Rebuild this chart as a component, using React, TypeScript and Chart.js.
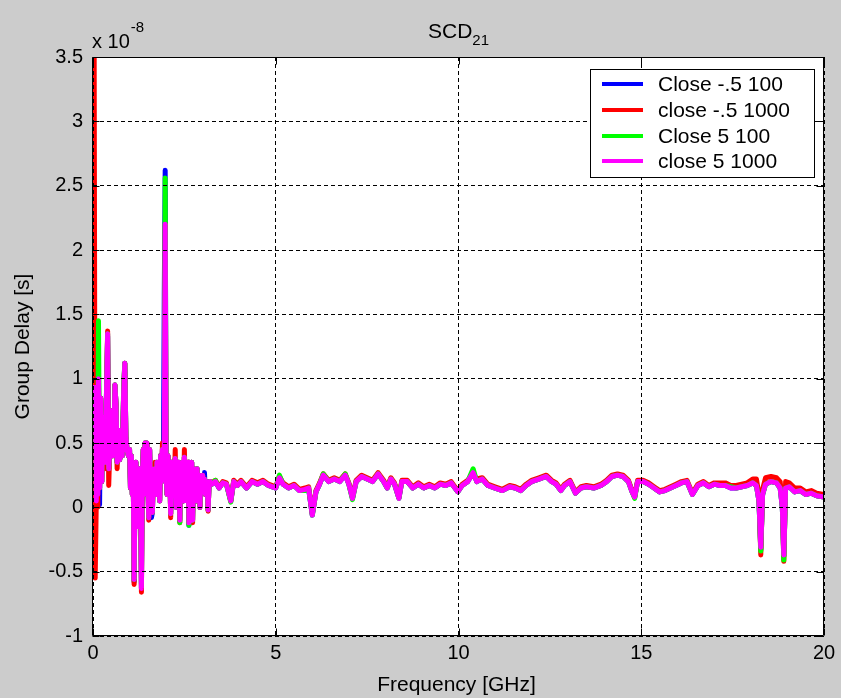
import React, { useEffect, useRef } from "react";
import { Chart, registerables } from "chart.js";

Chart.register(...registerables);

// ---------- data ----------
const FREQ_GHZ = [
  0.03, 0.06, 0.09, 0.11, 0.13, 0.15, 0.18, 0.21, 0.24, 0.27,
  0.30, 0.33, 0.37, 0.40, 0.43, 0.46, 0.50, 0.53, 0.57, 0.60,
  0.63, 0.66, 0.70, 0.73, 0.77, 0.80, 0.84, 0.87, 0.90, 0.93,
  0.97,
  1.000, 1.025, 1.050, 1.075, 1.100, 1.125, 1.150, 1.175, 1.200, 1.225,
  1.250, 1.275, 1.300, 1.325, 1.350, 1.375, 1.400, 1.425, 1.450, 1.475,
  1.500, 1.525, 1.550, 1.575, 1.600, 1.625, 1.650, 1.675, 1.700, 1.725,
  1.750, 1.775, 1.800, 1.825, 1.850, 1.875, 1.900, 1.925, 1.950, 1.975,
  2.000, 2.025, 2.050, 2.075, 2.100, 2.125, 2.150, 2.175, 2.200, 2.225,
  2.250, 2.275, 2.300, 2.325, 2.350, 2.375, 2.400, 2.425, 2.450, 2.475,
  2.500, 2.525, 2.550, 2.575, 2.600, 2.625, 2.650, 2.675, 2.700, 2.725,
  2.750, 2.775, 2.800, 2.825, 2.850, 2.875, 2.900, 2.925, 2.950, 2.975,
  3.000, 3.025, 3.050, 3.075, 3.100, 3.125, 3.150, 3.175, 3.200,
  3.25, 3.35, 3.45, 3.55, 3.65, 3.77, 3.85, 3.95, 4.05, 4.20,
  4.35, 4.50, 4.65, 4.80, 5.00, 5.10, 5.20, 5.35, 5.50, 5.65,
  5.80, 5.90, 6.00, 6.10, 6.20, 6.30, 6.45, 6.60, 6.75, 6.90,
  7.00, 7.10, 7.20, 7.35, 7.50, 7.65, 7.80, 7.95, 8.05, 8.15,
  8.25, 8.37, 8.45, 8.60, 8.75, 8.90, 9.05, 9.20, 9.35, 9.50,
  9.65, 9.80, 9.98, 10.10, 10.25, 10.40, 10.50, 10.65, 10.80, 11.00,
  11.20, 11.40, 11.55, 11.70, 11.85, 12.00, 12.20, 12.40, 12.55, 12.67,
  12.80, 12.90, 13.05, 13.20, 13.35, 13.50, 13.70, 13.90, 14.05, 14.20,
  14.35, 14.50, 14.65, 14.75, 14.82, 14.90, 15.05, 15.20, 15.35, 15.50,
  15.65, 15.80, 15.95, 16.10, 16.25, 16.40, 16.55, 16.70, 16.85, 17.00,
  17.15, 17.30, 17.45, 17.60, 17.75, 17.90, 18.05, 18.15, 18.22, 18.27,
  18.32, 18.40, 18.55, 18.70, 18.80, 18.86, 18.90, 18.95, 19.05, 19.20,
  19.35, 19.50, 19.65, 19.80, 20.00,
];

// Group delay in units of 1e-8 s
const CLOSE_M05_100 = [
  null, 0.93, 0.05, 0.88, 0.1, 1.05, 0.02, 0.85, 0.2, 0.7,
  0.55, 0.33, 0.9, 1.33, 0.3, 0.45, 0.75, 0.4, 0.5, 0.95,
  0.8, 0.35, 0.6, 0.37, 0.5, 0.4, 0.9, 1.12, 0.55, 0.45,
  0.4,
  0.45, 0.15, 0.4, 0.1, 0.3, -0.58, 0.2, 0.35, 0.1, 0.3,
  -0.15, 0.3, 0.2, -0.63, 0.25, 0.45, 0.1, 0.5, 0.3, 0.5,
  0.2, -0.08, 0.45, 0.1, -0.08, -0.04, 0.25, 0.15, 0.3, 0.1,
  0.35, 0.15, 0.3, 0.05, 0.4, 0.2, 0.45, 0.25, 1.65, 2.62,
  0.25, 0.1, 0.4, 0.15, 0.3, -0.05, 0.35, 0.1, 0.3, 0.2,
  0.38, 0.0, 0.3, 0.15, 0.35, -0.1, 0.3, 0.1, 0.35, 0.05,
  0.39, 0.15, 0.3, 0.05, 0.35, -0.14, 0.25, 0.1, 0.35, -0.1,
  0.3, 0.15, 0.25, 0.05, 0.3, 0.1, 0.25, 0.0, 0.22, 0.12,
  0.25, 0.15, 0.27, 0.1, 0.2, 0.15, -0.02, 0.18, 0.2,
  0.18, 0.2, 0.15, 0.19, 0.18, 0.05, 0.2, 0.17, 0.2, 0.15,
  0.2, 0.18, 0.2, 0.17, 0.15, 0.23, 0.18, 0.15, 0.17, 0.13,
  0.14, 0.14, -0.06, 0.12, 0.18, 0.25, 0.2, 0.22, 0.2, 0.25,
  0.18, 0.07, 0.2, 0.24, 0.22, 0.2, 0.26, 0.2, 0.15, 0.22,
  0.18, 0.07, 0.2, 0.2, 0.15, 0.18, 0.15, 0.17, 0.15, 0.18,
  0.17, 0.19, 0.12, 0.17, 0.2, 0.27, 0.2, 0.22, 0.17, 0.15,
  0.13, 0.16, 0.15, 0.13, 0.17, 0.2, 0.22, 0.24, 0.2, 0.18,
  0.13, 0.17, 0.2, 0.11, 0.15, 0.16, 0.15, 0.17, 0.2, 0.24,
  0.25, 0.24, 0.2, 0.12, 0.08, 0.2, 0.2, 0.18, 0.15, 0.12,
  0.13, 0.15, 0.17, 0.19, 0.2, 0.1, 0.17, 0.19, 0.16, 0.18,
  0.17, 0.17, 0.15, 0.15, 0.16, 0.17, 0.19, 0.17, 0.05, -0.33,
  0.1, 0.18, 0.2, 0.19, 0.15, 0.0, -0.38, 0.15, 0.16, 0.12,
  0.13, 0.1, 0.11, 0.09, 0.08,
];

const CLOSE_M05_1000 = [
  3.8, -0.55, 0.05, 0.85, 0.0, 0.95, 0.15, 0.85, 0.2, 0.7,
  0.55, 0.3, 0.9, 1.37, 0.17, 0.45, 0.75, 0.4, 0.5, 0.95,
  0.8, 0.3, 0.6, 0.37, 0.5, 0.4, 0.9, 1.12, 0.55, 0.45,
  0.4,
  0.45, 0.15, 0.4, 0.1, 0.3, -0.6, 0.2, 0.35, 0.1, 0.3,
  -0.15, 0.3, 0.2, -0.66, 0.25, 0.45, 0.1, 0.5, 0.3, 0.5,
  0.2, -0.1, 0.45, 0.1, 0.3, -0.04, 0.25, 0.15, 0.35, 0.1,
  0.35, 0.15, 0.3, 0.05, 0.4, 0.2, 0.5, 0.25, 0.3, 2.2,
  0.25, 0.1, 0.4, 0.15, 0.3, -0.08, 0.35, 0.1, 0.3, 0.2,
  0.45, 0.0, 0.3, 0.15, 0.35, -0.12, 0.3, 0.1, 0.35, 0.05,
  0.45, 0.15, 0.3, 0.05, 0.35, -0.12, 0.25, 0.1, 0.35, -0.12,
  0.3, 0.15, 0.25, 0.05, 0.3, 0.1, 0.25, 0.0, 0.22, 0.12,
  0.25, 0.15, 0.22, 0.1, 0.2, 0.15, -0.03, 0.18, 0.2,
  0.19, 0.21, 0.16, 0.2, 0.19, 0.05, 0.21, 0.18, 0.21, 0.16,
  0.21, 0.19, 0.21, 0.18, 0.16, 0.24, 0.19, 0.16, 0.18, 0.14,
  0.15, 0.16, -0.05, 0.13, 0.19, 0.26, 0.21, 0.23, 0.21, 0.26,
  0.19, 0.08, 0.21, 0.25, 0.23, 0.21, 0.27, 0.21, 0.16, 0.23,
  0.19, 0.08, 0.21, 0.21, 0.16, 0.19, 0.16, 0.18, 0.16, 0.19,
  0.18, 0.2, 0.13, 0.18, 0.21, 0.26, 0.22, 0.23, 0.18, 0.16,
  0.14, 0.17, 0.16, 0.14, 0.18, 0.21, 0.23, 0.25, 0.21, 0.19,
  0.14, 0.18, 0.21, 0.12, 0.16, 0.17, 0.16, 0.18, 0.21, 0.25,
  0.26, 0.25, 0.21, 0.13, 0.08, 0.21, 0.21, 0.19, 0.16, 0.13,
  0.14, 0.16, 0.18, 0.2, 0.21, 0.11, 0.18, 0.2, 0.17, 0.19,
  0.19, 0.19, 0.17, 0.17, 0.18, 0.19, 0.22, 0.22, 0.1, -0.37,
  0.14, 0.23, 0.24, 0.23, 0.2, 0.04, -0.42, 0.2, 0.19, 0.15,
  0.15, 0.12, 0.13, 0.11, 0.1,
];

const CLOSE_5_100 = [
  null, 0.95, 0.1, 0.9, 0.2, 1.45, 0.15, 0.85, 0.2, 0.7,
  0.55, 0.35, 0.9, 1.35, 0.3, 0.45, 0.75, 0.4, 0.5, 0.95,
  0.8, 0.35, 0.6, 0.37, 0.5, 0.4, 0.95, 1.12, 0.55, 0.45,
  0.4,
  0.45, 0.15, 0.4, 0.1, 0.3, -0.56, 0.2, 0.35, 0.1, 0.3,
  -0.15, 0.3, 0.2, -0.6, 0.25, 0.45, 0.1, 0.5, 0.3, 0.5,
  0.2, -0.08, 0.45, 0.1, 0.3, -0.04, 0.25, 0.15, 0.3, 0.1,
  0.35, 0.15, 0.3, 0.05, 0.4, 0.2, 0.45, 0.25, 0.3, 2.56,
  0.25, 0.1, 0.4, 0.15, 0.3, -0.05, 0.35, 0.1, 0.3, 0.2,
  0.38, 0.0, 0.3, 0.15, 0.35, -0.12, 0.3, 0.1, 0.35, 0.05,
  0.39, 0.15, 0.3, 0.05, 0.35, -0.14, 0.25, 0.1, 0.35, -0.1,
  0.3, 0.15, 0.25, 0.05, 0.3, 0.1, 0.25, 0.0, 0.22, 0.12,
  0.25, 0.15, 0.22, 0.1, 0.2, 0.15, -0.02, 0.18, 0.2,
  0.18, 0.21, 0.15, 0.19, 0.18, 0.04, 0.2, 0.17, 0.2, 0.15,
  0.2, 0.18, 0.2, 0.17, 0.15, 0.25, 0.18, 0.15, 0.17, 0.13,
  0.13, 0.15, -0.06, 0.12, 0.18, 0.26, 0.2, 0.22, 0.2, 0.26,
  0.18, 0.06, 0.2, 0.24, 0.22, 0.2, 0.26, 0.2, 0.15, 0.22,
  0.18, 0.07, 0.2, 0.2, 0.15, 0.18, 0.15, 0.17, 0.15, 0.18,
  0.17, 0.19, 0.12, 0.17, 0.2, 0.3, 0.2, 0.22, 0.17, 0.15,
  0.13, 0.16, 0.15, 0.13, 0.17, 0.2, 0.22, 0.24, 0.2, 0.18,
  0.13, 0.17, 0.2, 0.11, 0.15, 0.16, 0.15, 0.17, 0.2, 0.24,
  0.25, 0.24, 0.2, 0.12, 0.07, 0.2, 0.2, 0.18, 0.15, 0.12,
  0.13, 0.15, 0.17, 0.19, 0.2, 0.1, 0.17, 0.19, 0.16, 0.18,
  0.17, 0.17, 0.16, 0.15, 0.16, 0.17, 0.19, 0.17, 0.05, -0.34,
  0.1, 0.18, 0.2, 0.19, 0.15, 0.0, -0.41, 0.15, 0.16, 0.12,
  0.13, 0.1, 0.11, 0.09, 0.08,
];

const CLOSE_5_1000 = [
  null, 0.95, 0.05, 0.9, 0.1, 1.0, 0.15, 0.85, 0.2, 0.7,
  0.55, 0.35, 0.9, 1.35, 0.3, 0.45, 0.75, 0.4, 0.5, 0.95,
  0.8, 0.35, 0.6, 0.37, 0.5, 0.4, 0.9, 1.12, 0.55, 0.45,
  0.4,
  0.45, 0.15, 0.4, 0.1, 0.3, -0.56, 0.2, 0.35, 0.1, 0.3,
  -0.15, 0.3, 0.2, -0.63, 0.25, 0.45, 0.1, 0.5, 0.3, 0.5,
  0.2, -0.08, 0.45, 0.1, 0.3, -0.04, 0.25, 0.15, 0.3, 0.1,
  0.35, 0.15, 0.3, 0.05, 0.4, 0.2, 0.45, 0.25, 0.3, 2.2,
  0.25, 0.1, 0.4, 0.15, 0.3, -0.05, 0.35, 0.1, 0.3, 0.2,
  0.38, 0.0, 0.3, 0.15, 0.35, -0.1, 0.3, 0.1, 0.35, 0.05,
  0.39, 0.15, 0.3, 0.05, 0.35, -0.12, 0.25, 0.1, 0.35, -0.1,
  0.3, 0.15, 0.25, 0.05, 0.3, 0.1, 0.25, 0.0, 0.22, 0.12,
  0.25, 0.15, 0.22, 0.1, 0.2, 0.15, -0.02, 0.18, 0.2,
  0.18, 0.2, 0.15, 0.19, 0.18, 0.05, 0.2, 0.17, 0.2, 0.15,
  0.2, 0.18, 0.2, 0.17, 0.15, 0.23, 0.18, 0.15, 0.17, 0.13,
  0.14, 0.15, -0.06, 0.12, 0.18, 0.25, 0.2, 0.22, 0.2, 0.25,
  0.18, 0.07, 0.2, 0.24, 0.22, 0.2, 0.26, 0.2, 0.15, 0.22,
  0.18, 0.07, 0.2, 0.2, 0.15, 0.18, 0.15, 0.17, 0.15, 0.18,
  0.17, 0.19, 0.12, 0.17, 0.2, 0.27, 0.2, 0.22, 0.17, 0.15,
  0.13, 0.16, 0.15, 0.13, 0.17, 0.2, 0.22, 0.24, 0.2, 0.18,
  0.13, 0.17, 0.2, 0.11, 0.15, 0.16, 0.15, 0.17, 0.2, 0.24,
  0.25, 0.24, 0.2, 0.12, 0.08, 0.2, 0.2, 0.18, 0.15, 0.12,
  0.13, 0.15, 0.17, 0.19, 0.2, 0.1, 0.17, 0.19, 0.16, 0.18,
  0.17, 0.17, 0.15, 0.15, 0.16, 0.17, 0.19, 0.17, 0.05, -0.31,
  0.1, 0.18, 0.2, 0.19, 0.15, 0.0, -0.37, 0.15, 0.16, 0.12,
  0.13, 0.1, 0.11, 0.09, 0.08,
];

const SERIES_NAMES = ["Close -.5 100", "close -.5 1000", "Close 5 100", "close 5 1000"];
const SERIES_VALUES = [CLOSE_M05_100, CLOSE_M05_1000, CLOSE_5_100, CLOSE_5_1000];
const SERIES_COLORS = ["#0000ff", "#ff0000", "#00ff00", "#ff00ff"];

const X_MIN = 0;
const X_MAX = 20;
const X_STEP = 5;
const Y_MIN = -1;
const Y_MAX = 3.5;
const Y_STEP = 0.5;

const TITLE_MAIN = "SCD";
const TITLE_SUB = "21";
const X_LABEL = "Frequency [GHz]";
const Y_LABEL = "Group Delay [s]";
const Y_EXP_BASE = "x 10";
const Y_EXP_POWER = "-8";

// ---------- styling ----------
const FONT = '"Liberation Sans", Arial, Helvetica, sans-serif';
const W = 841;
const H = 698;

const matlabPlugin = {
  id: "matlabLook",
  beforeDraw(chart: any) {
    const { ctx, chartArea: a } = chart;
    ctx.save();
    ctx.fillStyle = "#cccccc";
    ctx.fillRect(0, 0, chart.width, chart.height);
    ctx.fillStyle = "#ffffff";
    ctx.fillRect(a.left, a.top, a.right - a.left, a.bottom - a.top);
    ctx.restore();
  },
  afterDraw(chart: any) {
    const { ctx, chartArea: a, scales } = chart;
    const xs = scales.x;
    const ys = scales.y;
    ctx.save();
    ctx.setLineDash([]);
    ctx.strokeStyle = "#000";
    ctx.lineWidth = 1;
    const L = Math.round(a.left) - 0.5;
    const R = Math.round(a.right) - 0.5;
    const T = Math.round(a.top) + 0.5;
    const B = Math.round(a.bottom) - 0.5;
    ctx.beginPath();
    ctx.rect(L, T, R - L, B - T);
    ctx.stroke();
    // inward tick marks
    const tl = 7;
    ctx.beginPath();
    for (let v = X_MIN; v <= X_MAX + 1e-9; v += X_STEP) {
      const px = Math.round(xs.getPixelForValue(v)) + 0.5;
      ctx.moveTo(px, B);
      ctx.lineTo(px, B - tl);
      ctx.moveTo(px, T);
      ctx.lineTo(px, T + tl);
    }
    for (let v = Y_MIN; v <= Y_MAX + 1e-9; v += Y_STEP) {
      const py = Math.round(ys.getPixelForValue(v)) + 0.5;
      ctx.moveTo(L, py);
      ctx.lineTo(L + tl, py);
      ctx.moveTo(R, py);
      ctx.lineTo(R - tl, py);
    }
    ctx.stroke();

    ctx.fillStyle = "#000";
    // Title with subscript
    const cx = (a.left + a.right) / 2;
    ctx.font = `21px ${FONT}`;
    const w1 = ctx.measureText(TITLE_MAIN).width;
    ctx.font = `15px ${FONT}`;
    const w2 = ctx.measureText(TITLE_SUB).width;
    const sx = cx - (w1 + w2) / 2;
    ctx.textAlign = "left";
    ctx.textBaseline = "alphabetic";
    ctx.font = `21px ${FONT}`;
    ctx.fillText(TITLE_MAIN, sx, 38);
    ctx.font = `15px ${FONT}`;
    ctx.fillText(TITLE_SUB, sx + w1, 45);

    // exponent label
    ctx.font = `20px ${FONT}`;
    ctx.fillText(Y_EXP_BASE, a.left - 1, 48);
    const we = ctx.measureText(Y_EXP_BASE).width;
    ctx.font = `15px ${FONT}`;
    ctx.fillText(Y_EXP_POWER, a.left - 1 + we + 1, 32);

    // axis labels
    ctx.font = `21px ${FONT}`;
    ctx.textAlign = "center";
    ctx.textBaseline = "middle";
    ctx.fillText(X_LABEL, cx - 2, 685);
    ctx.save();
    ctx.translate(23, (a.top + a.bottom) / 2);
    ctx.rotate(-Math.PI / 2);
    ctx.fillText(Y_LABEL, 0, 0);
    ctx.restore();

    // legend box (inside, north-east)
    const bx = 590.5;
    const by = 69.5;
    const bw = 224;
    const bh = 108;
    ctx.fillStyle = "#ffffff";
    ctx.fillRect(bx, by, bw, bh);
    ctx.strokeStyle = "#000";
    ctx.lineWidth = 1;
    ctx.strokeRect(bx, by, bw, bh);
    ctx.font = `21px ${FONT}`;
    ctx.textAlign = "left";
    ctx.textBaseline = "middle";
    const rowY = [84, 110, 136, 161];
    chart.data.datasets.forEach((ds: any, i: number) => {
      const y = rowY[i];
      ctx.strokeStyle = ds.borderColor;
      ctx.lineWidth = 4;
      ctx.beginPath();
      ctx.moveTo(602, y);
      ctx.lineTo(643, y);
      ctx.stroke();
      ctx.fillStyle = "#000";
      ctx.fillText(ds.label, 658, y + 1);
    });
    ctx.restore();
  },
};

export default function App() {
  const canvasRef = useRef<HTMLCanvasElement | null>(null);

  useEffect(() => {
    document.body.style.margin = "0";
    const canvas = canvasRef.current;
    if (!canvas) return;
    const drawOrder = [3, 2, 1, 0]; // magenta drawn on top
    const datasets = SERIES_NAMES.map((name, i) => ({
      label: name,
      data: FREQ_GHZ.map((f, k) => ({ x: f, y: SERIES_VALUES[i][k] })),
      borderColor: SERIES_COLORS[i],
      backgroundColor: SERIES_COLORS[i],
      borderWidth: 5,
      pointRadius: 0,
      tension: 0,
      fill: false,
      spanGaps: false,
      borderJoinStyle: "round" as const,
      borderCapStyle: "butt" as const,
      order: drawOrder[i],
    }));

    const chart = new Chart(canvas, {
      type: "line",
      data: { datasets },
      options: {
        responsive: false,
        animation: false,
        events: [],
        layout: { padding: { top: 57, right: 17, left: 0, bottom: 0 } },
        plugins: {
          legend: { display: false },
          title: { display: false },
          tooltip: { enabled: false },
        },
        scales: {
          x: {
            type: "linear",
            min: X_MIN,
            max: X_MAX,
            afterFit: (s: any) => {
              s.height = 62;
            },
            ticks: {
              stepSize: X_STEP,
              color: "#000",
              padding: 5,
              maxRotation: 0,
              font: { family: FONT, size: 20 },
              callback: (v: any) => String(v),
            },
            grid: {
              color: "#000",
              lineWidth: 1,
              drawTicks: false,
              z: 1,
            },
            border: { display: false, dash: [4, 3] },
          },
          y: {
            type: "linear",
            min: Y_MIN,
            max: Y_MAX,
            afterFit: (s: any) => {
              s.width = 93;
            },
            ticks: {
              stepSize: Y_STEP,
              color: "#000",
              padding: 10,
              font: { family: FONT, size: 20 },
              callback: (v: any) => String(v),
            },
            grid: {
              color: "#000",
              lineWidth: 1,
              drawTicks: false,
              z: 1,
            },
            border: { display: false, dash: [4, 3] },
          },
        },
      },
      plugins: [matlabPlugin],
    });

    return () => {
      chart.destroy();
    };
  }, []);

  return (
    <div style={{ position: "fixed", left: 0, top: 0, width: W, height: H, background: "#cccccc" }}>
      <canvas ref={canvasRef} width={W} height={H} style={{ width: W, height: H, display: "block" }} />
    </div>
  );
}
